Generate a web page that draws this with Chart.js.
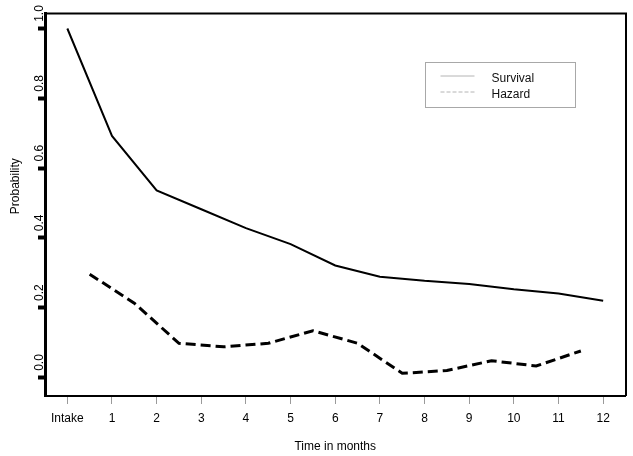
<!DOCTYPE html>
<html><head><meta charset="utf-8">
<script src="https://cdn.jsdelivr.net/npm/chart.js@4/dist/chart.umd.min.js"></script>
<style>html,body{margin:0;padding:0;background:#fff}canvas{display:block}</style>
</head><body>
<canvas id="c" width="633" height="456"></canvas>
<script>
// ---- data ----
const xTickValues = [0, 1, 2, 3, 4, 5, 6, 7, 8, 9, 10, 11, 12];
const xTickLabels = ['Intake', '1', '2', '3', '4', '5', '6', '7', '8', '9', '10', '11', '12'];
const yTickValues = [0, 0.2, 0.4, 0.6, 0.8, 1.0];
const survivalMonths = [0, 1, 2, 3, 4, 5, 6, 7, 8, 9, 10, 11, 12];
const survivalValues = [1.0, 0.692, 0.536, 0.482, 0.428, 0.382, 0.321, 0.289, 0.277, 0.268, 0.253, 0.241, 0.220];
const hazardMonths = [0.5, 1.5, 2.5, 3.5, 4.5, 5.5, 6.5, 7.5, 8.5, 9.5, 10.5, 11.5];
const hazardValues = [0.296, 0.213, 0.098, 0.088, 0.098, 0.134, 0.098, 0.012, 0.020, 0.048, 0.033, 0.076];
const seriesLabels = ['Survival', 'Hazard'];
const xTitle = 'Time in months';
const yTitle = 'Probability';

Chart.defaults.font.family = '"Liberation Sans", Arial, sans-serif';
Chart.defaults.font.size = 12;
Chart.defaults.color = '#000';

const frameAndLegend = {
  id: 'frameAndLegend',
  afterDraw(chart) {
    const ctx = chart.ctx, ca = chart.chartArea;
    ctx.save();
    // top and right frame lines
    ctx.strokeStyle = '#000';
    ctx.lineWidth = 2;
    ctx.beginPath();
    ctx.moveTo(ca.left, ca.top + 0.5);
    ctx.lineTo(ca.right + 0.5, ca.top + 0.5);
    ctx.lineTo(ca.right + 0.5, ca.bottom);
    ctx.stroke();
    // legend box
    const bx = ca.left + 380.5, by = ca.top + 49.5;
    ctx.lineWidth = 1;
    ctx.strokeStyle = '#a8a8a8';
    ctx.strokeRect(bx, by, 150, 45);
    ctx.font = '12px "Liberation Sans", Arial, sans-serif';
    ctx.textBaseline = 'alphabetic';
    ctx.textAlign = 'left';
    chart.data.datasets.forEach((ds, i) => {
      const ly = by + 13.5 + i * 16;
      ctx.strokeStyle = '#b4b4b4';
      ctx.lineWidth = 1;
      ctx.setLineDash(i === 1 ? [4, 2] : []);
      ctx.beginPath();
      ctx.moveTo(bx + 15, ly);
      ctx.lineTo(bx + 49, ly);
      ctx.stroke();
      ctx.setLineDash([]);
      ctx.fillStyle = '#111';
      ctx.fillText(ds.label, bx + 66, ly + 6.3);
    });
    ctx.restore();
  }
};

new Chart(document.getElementById('c'), {
  type: 'line',
  data: {
    datasets: [
      {
        label: seriesLabels[0],
        data: survivalMonths.map((m, i) => ({x: m, y: survivalValues[i]})),
        borderColor: '#000',
        borderWidth: 2,
        pointRadius: 0,
        tension: 0,
        fill: false
      },
      {
        label: seriesLabels[1],
        data: hazardMonths.map((m, i) => ({x: m, y: hazardValues[i]})),
        borderColor: '#000',
        borderWidth: 3,
        borderDash: [10, 5],
        pointRadius: 0,
        tension: 0,
        fill: false
      }
    ]
  },
  options: {
    responsive: false,
    animation: false,
    devicePixelRatio: 1,
    layout: {padding: {left: 0, top: 13, right: 7.5, bottom: 0}},
    plugins: {legend: {display: false}, tooltip: {enabled: false}},
    scales: {
      x: {
        type: 'linear',
        min: -0.5,
        max: 12.5,
        afterBuildTicks: s => { s.ticks = xTickValues.map(v => ({value: v})); },
        afterFit: s => { s.height = 60; },
        ticks: {
          autoSkip: false,
          maxRotation: 0,
          padding: 7,
          color: '#000',
          font: {size: 12},
          callback: v => xTickLabels[xTickValues.indexOf(v)]
        },
        grid: {drawOnChartArea: false, drawTicks: true, tickLength: 8, tickColor: '#9a9a9a', tickWidth: 1},
        border: {display: true, color: '#000', width: 2},
        title: {display: true, text: xTitle, color: '#000', font: {size: 12}, padding: {top: 0, bottom: 2.5}}
      },
      y: {
        type: 'linear',
        min: -0.053,
        max: 1.0444,
        afterBuildTicks: s => { s.ticks = yTickValues.map(v => ({value: v})); },
        afterFit: s => { s.width = 45; },
        ticks: {
          autoSkip: false,
          minRotation: 90,
          maxRotation: 90,
          crossAlign: 'center',
          padding: -24.85,
          color: '#000',
          font: {size: 12},
          callback: v => '         ' + Number(v).toFixed(1)
        },
        grid: {drawOnChartArea: false, drawTicks: true, tickLength: 7, tickColor: '#000', tickWidth: 4},
        border: {display: true, color: '#000', width: 3},
        title: {display: true, text: '           ' + yTitle, color: '#000', font: {size: 12}, padding: {top: 8, bottom: 0}}
      }
    }
  },
  plugins: [frameAndLegend]
});
</script>
</body></html>
